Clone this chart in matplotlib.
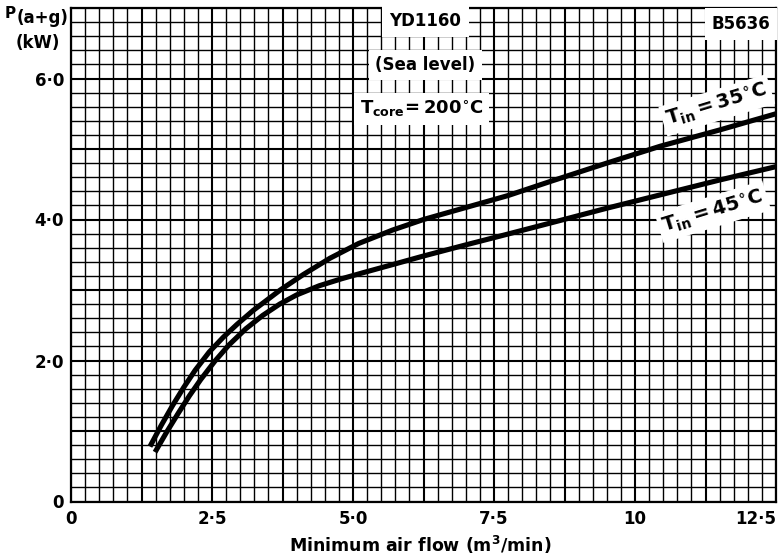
import matplotlib
matplotlib.use("Agg")
import matplotlib.pyplot as plt
import numpy as np

# values
airflow_35 = [1.40, 1.60, 1.80, 2.00, 2.20, 2.45, 2.70, 2.94, 3.23, 3.71, 4.12, 4.59, 5.10,
              5.70, 6.25, 7.00, 7.75, 8.50, 9.50, 10.45, 11.50, 12.50]
power_35 = [0.78, 1.08, 1.36, 1.62, 1.86, 2.12, 2.33, 2.51, 2.71, 3.00, 3.22, 3.45, 3.66,
            3.85, 4.00, 4.17, 4.34, 4.54, 4.80, 5.04, 5.27, 5.50]
airflow_45 = [1.49, 1.70, 1.90, 2.10, 2.30, 2.55, 2.80, 3.10, 3.40, 3.70, 4.00, 4.40, 4.80,
              5.20, 5.70, 6.24, 7.00, 7.73, 8.50, 9.50, 10.50, 11.50, 12.50]
power_45 = [0.70, 0.99, 1.25, 1.50, 1.73, 1.99, 2.22, 2.45, 2.64, 2.80, 2.93, 3.06, 3.16,
            3.25, 3.36, 3.48, 3.64, 3.79, 3.95, 4.16, 4.36, 4.56, 4.75]

x_labelled = [0, 2.5, 5.0, 7.5, 10, 12.5]
x_ticklabels = ["0", "2·5", "5·0", "7·5", "10", "12·5"]
y_labelled = [0, 2, 4, 6]
y_ticklabels = ["0", "2·0", "4·0", "6·0"]

plt.rcParams["font.family"] = "DejaVu Sans"
plt.rcParams["font.weight"] = "bold"
plt.rcParams["mathtext.default"] = "regular"

W, H = 781, 559
fig = plt.figure(figsize=(W / 100, H / 100), dpi=100)
ax = fig.add_axes([71 / W, 1 - 501.5 / H, (776 - 71) / W, (501.5 - 8) / H])

ax.set_xlim(0, 12.5)
ax.set_ylim(0, 7.0)

# heavy grid every 5 cells, light grid every cell
xmajor = np.arange(0, 12.51, 1.25)
ymajor = np.arange(0, 7.01, 1.0)
ax.set_xticks(xmajor)
ax.set_yticks(ymajor)
ax.set_xticks(np.arange(0, 12.51, 0.25), minor=True)
ax.set_yticks(np.arange(0, 7.01, 0.2), minor=True)
ax.set_xticklabels([x_ticklabels[x_labelled.index(v)] if v in x_labelled else "" for v in xmajor])
ax.set_yticklabels([y_ticklabels[y_labelled.index(v)] if v in y_labelled else "" for v in ymajor])
ax.get_xticklabels()[-1].set_ha("right")
ax.tick_params(which="both", length=0)
ax.tick_params(axis="x", pad=6, labelsize=12)
ax.tick_params(axis="y", pad=5, labelsize=12)
ax.grid(which="minor", color="black", lw=1.0)
ax.grid(which="major", color="black", lw=1.5)
ax.set_axisbelow(True)
for sp in ax.spines.values():
    sp.set_linewidth(1.6)

ax.plot(airflow_35, power_35, color="black", lw=3.7, solid_capstyle="butt",
        solid_joinstyle="round", zorder=3)
ax.plot(airflow_45, power_45, color="black", lw=3.7, solid_capstyle="butt",
        solid_joinstyle="round", zorder=3)

box = dict(facecolor="white", edgecolor="none")
ax.text(6.28, 6.82, "YD1160", ha="center", va="center", fontsize=12, zorder=5,
        bbox=dict(box, pad=5.5))
ax.text(6.28, 6.19, "(Sea level)", ha="center", va="center", fontsize=12, zorder=5,
        bbox=dict(box, pad=4.5))
ax.text(6.22, 5.57, r"$T_{core}\!=200^{\circ}C$", ha="center", va="center",
        fontsize=13, zorder=5, bbox=dict(box, pad=4))
ax.text(11.88, 6.77, "B5636", ha="center", va="center", fontsize=12, zorder=5,
        bbox=dict(box, pad=5))
ax.text(11.45, 5.62, r"$T_{in}=35^{\circ}C$", ha="center", va="center",
        fontsize=14, rotation=17, zorder=5, bbox=dict(box, pad=3))
ax.text(11.38, 4.11, r"$T_{in}=45^{\circ}C$", ha="center", va="center",
        fontsize=14, rotation=17, zorder=5, bbox=dict(box, pad=3))

fig.text(5 / W, 1 - 13 / H, "P", ha="left", va="center", fontsize=11)
fig.text(17 / W, 1 - 18 / H, "(a+g)", ha="left", va="center", fontsize=12)
fig.text(38 / W, 1 - 43 / H, "(kW)", ha="center", va="center", fontsize=12)
fig.text(420 / W, 1 - 545 / H, "Minimum air flow (m$^3$/min)", ha="center", va="center",
         fontsize=12.5)

fig.savefig("out.png", dpi=100)
